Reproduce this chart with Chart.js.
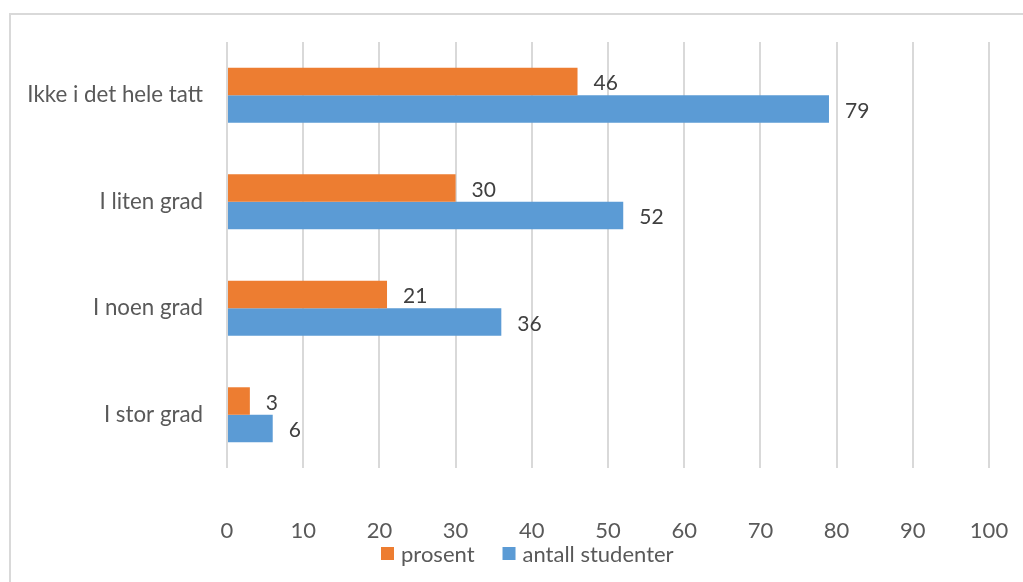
<!DOCTYPE html>
<html>
<head>
<meta charset="utf-8">
<script src="https://cdn.jsdelivr.net/npm/chart.js@4.4.1/dist/chart.umd.min.js"></script>
<style>
  html, body { margin: 0; padding: 0; background: #ffffff; }
  #wrap { position: relative; width: 1023px; height: 582px; }
  canvas { display: block; }
</style>
</head>
<body>
<div id="wrap"><canvas id="c" width="1023" height="582"></canvas></div>
<script>
// ---- data ----
const categories = ["Ikke i det hele tatt", "I liten grad", "I noen grad", "I stor grad"];
const prosent = [46, 30, 21, 3];
const antallStudenter = [79, 52, 36, 6];
const seriesNames = ["prosent", "antall studenter"];
const xTicks = [0, 10, 20, 30, 40, 50, 60, 70, 80, 90, 100];

const FONT = "Lato";
const ORANGE = "#ED7D31";
const BLUE = "#5B9BD5";
const AXIS_TEXT = "#595959";
const LABEL_TEXT = "#404040";

const frame = {
  id: "frame",
  beforeDraw(chart) {
    const ctx = chart.ctx;
    ctx.save();
    ctx.fillStyle = "#d9d9d9";
    ctx.fillRect(9, 13, 2, chart.height);
    ctx.fillRect(9, 13, chart.width, 2);
    ctx.restore();
  }
};

const valueLabels = {
  id: "valueLabels",
  afterDatasetsDraw(chart) {
    const ctx = chart.ctx;
    ctx.save();
    ctx.font = "21px " + FONT;
    ctx.fillStyle = LABEL_TEXT;
    ctx.textAlign = "left";
    ctx.textBaseline = "middle";
    chart.data.datasets.forEach((ds, di) => {
      const meta = chart.getDatasetMeta(di);
      meta.data.forEach((bar, i) => {
        ctx.fillText(String(ds.data[i]), bar.x + 16, bar.y + 2);
      });
    });
    ctx.restore();
  }
};

// legend drawn from the chart's own dataset labels and colours
const bottomLegend = {
  id: "bottomLegend",
  afterDraw(chart) {
    const ctx = chart.ctx;
    const box = 13, gapText = 7, gapItem = 28, centerX = 527, centerY = 553.5;
    ctx.save();
    ctx.font = "22px " + FONT;
    ctx.textBaseline = "middle";
    ctx.textAlign = "left";
    const items = chart.data.datasets.map(ds => ({
      text: ds.label, color: ds.backgroundColor, w: ctx.measureText(ds.label).width
    }));
    let total = 0;
    items.forEach((it, i) => { total += box + gapText + it.w + (i ? gapItem : 0); });
    let x = Math.round(centerX - total / 2);
    items.forEach(it => {
      ctx.fillStyle = it.color;
      ctx.fillRect(x, Math.round(centerY - box / 2), box, box);
      ctx.fillStyle = AXIS_TEXT;
      ctx.fillText(it.text, x + box + gapText, centerY + 1);
      x += box + gapText + it.w + gapItem;
    });
    ctx.restore();
  }
};

new Chart(document.getElementById("c"), {
  type: "bar",
  data: {
    labels: categories,
    datasets: [
      { label: seriesNames[0], data: prosent, backgroundColor: ORANGE, borderWidth: 0 },
      { label: seriesNames[1], data: antallStudenter, backgroundColor: BLUE, borderWidth: 0 }
    ]
  },
  options: {
    indexAxis: "y",
    responsive: false,
    animation: false,
    devicePixelRatio: 1,
    layout: { padding: { top: 42, right: 34, bottom: 0, left: 0 } },
    datasets: { bar: { barPercentage: 1, categoryPercentage: 0.516 } },
    scales: {
      x: {
        min: 0, max: 100,
        afterBuildTicks(scale) { scale.ticks = xTicks.map(v => ({ value: v })); },
        afterFit(scale) { scale.height = 582 - 468; },
        grid: { display: true, color: "#d9d9d9", lineWidth: 2, drawTicks: false },
        border: { display: false },
        ticks: { color: AXIS_TEXT, font: { family: FONT, size: 22, lineHeight: 4.82 }, padding: 10 }
      },
      y: {
        afterFit(scale) { scale.width = 227; },
        grid: { display: false, drawTicks: false },
        border: { display: false },
        ticks: { color: AXIS_TEXT, font: { family: FONT, size: 22.3 }, padding: 24 }
      }
    },
    plugins: {
      legend: { display: false },
      tooltip: { enabled: false }
    }
  },
  plugins: [frame, valueLabels, bottomLegend]
});
</script>
</body>
</html>
